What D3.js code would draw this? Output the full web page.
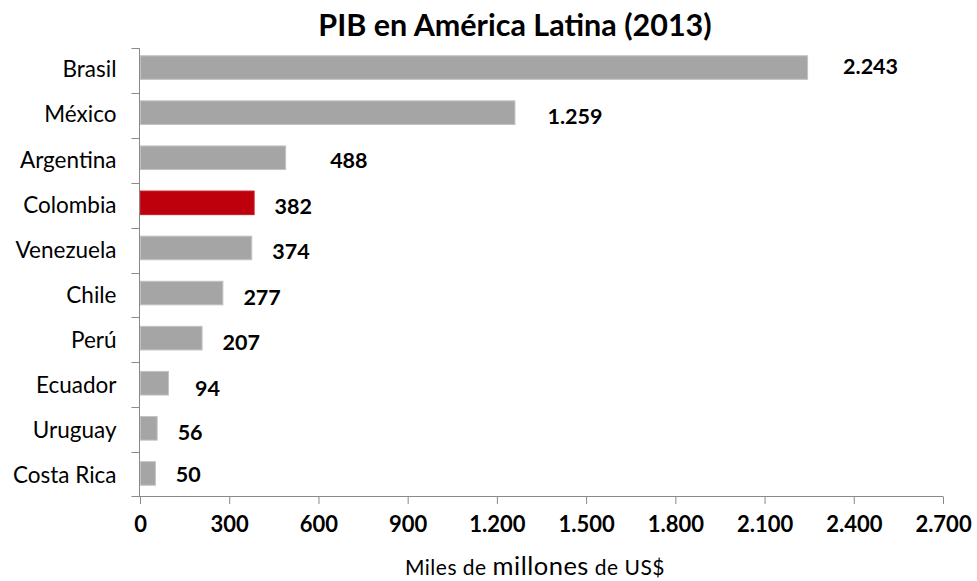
<!DOCTYPE html>
<html>
<head>
<meta charset="utf-8">
<style>
  body { margin: 0; background: #fff; }
  svg { display: block; font-family: Lato, "Open Sans", sans-serif; }
</style>
</head>
<body>
<svg id="chart"></svg>
<script src="https://d3js.org/d3.v7.min.js"></script>
<script>

  var countries = ["Brasil", "México", "Argentina", "Colombia", "Venezuela",
                   "Chile", "Perú", "Ecuador", "Uruguay", "Costa Rica"];
  var gdp = [2243, 1259, 488, 382, 374, 277, 207, 94, 56, 50];
  var highlight = "Colombia";
  var xTicks = [0, 300, 600, 900, 1200, 1500, 1800, 2100, 2400, 2700];

  // the source's data labels were dragged by hand a little; layout only
  var labelNudge = {
    "Brasil":     {dx: 15, dy: -5},
    "México":     {dx: 12, dy: 0},
    "Argentina":  {dx: 24, dy: -1},
    "Ecuador":    {dx: 6,  dy: 1},
    "Costa Rica": {dx: 0,  dy: -2.5}
  };

  var width = 977, height = 581;

  var svg = d3.select("#chart")
    .attr("width", width)
    .attr("height", height);

  var rows = countries.map(function(c, i) {
    return {country: c, value: gdp[i]};
  });

  var xScale = d3.scaleLinear()
    .domain([0, 2700])
    .range([140, 943]);

  // bars
  var yScale = d3.scaleBand()
    .domain(countries)
    .range([45, 496])
    .paddingInner(0.477)
    .paddingOuter(0.2385);

  // category tick marks (between categories)
  var yTickScale = d3.scaleBand()
    .domain(countries)
    .range([48.3, 496.7]);

  var fmt = function(v) {
    return d3.format(",")(v).replace(/,/g, ".");
  };

  var axisColor = "#898989";

  // title
  svg.append("text")
    .attr("x", 515)
    .attr("y", 36)
    .attr("text-anchor", "middle")
    .attr("font-size", 30.5)
    .attr("font-weight", "bold")
    .attr("fill", "#000")
    .text("PIB en América Latina (2013)");

  // bars
  svg.selectAll("rect.bar")
    .data(rows)
    .enter().append("rect")
    .attr("class", "bar")
    .attr("x", xScale(0) + 0.5)
    .attr("y", function(d) { return yScale(d.country); })
    .attr("width", function(d) { return xScale(d.value) - xScale(0); })
    .attr("height", yScale.bandwidth())
    .attr("fill", function(d) { return d.country === highlight ? "#be000c" : "#a5a5a5"; })
    .attr("stroke", function(d) { return d.country === highlight ? "#c41a24" : "#c2c2c2"; })
    .attr("stroke-width", 1);

  // value labels
  svg.selectAll("text.val")
    .data(rows)
    .enter().append("text")
    .attr("class", "val")
    .attr("x", function(d) {
      var n = labelNudge[d.country];
      return xScale(d.value) + 21 + (n ? n.dx : 0);
    })
    .attr("y", function(d) {
      var n = labelNudge[d.country];
      return yScale(d.country) + yScale.bandwidth() / 2 + 11.5 + (n ? n.dy : 0);
    })
    .attr("font-size", 21.5)
    .attr("font-weight", "bold")
    .attr("fill", "#000")
    .text(function(d) { return fmt(d.value); });

  // x axis
  var xAxis = d3.axisBottom(xScale)
    .tickValues(xTicks)
    .tickSize(7.5)
    .tickPadding(12)
    .tickFormat(fmt);

  var gx = svg.append("g")
    .attr("transform", "translate(0,496.5)")
    .call(xAxis);
  gx.select(".domain").remove();
  gx.append("line")
    .attr("x1", 131.5).attr("x2", xScale(2700))
    .attr("stroke", axisColor);
  gx.selectAll(".tick line").attr("stroke", axisColor);
  gx.selectAll(".tick text")
    .attr("font-family", "Lato, sans-serif")
    .attr("font-size", 22)
    .attr("font-weight", "bold")
    .attr("fill", "#000");

  // y axis
  var gy = svg.append("g");
  gy.append("line")
    .attr("x1", 139.5).attr("x2", 139.5)
    .attr("y1", 48.3).attr("y2", 496.7)
    .attr("stroke", axisColor);
  gy.selectAll("line.ytick")
    .data(countries)
    .enter().append("line")
    .attr("class", "ytick")
    .attr("x1", 131.5).attr("x2", 139.5)
    .attr("y1", function(d) { return Math.round(yTickScale(d)) + 0.5; })
    .attr("y2", function(d) { return Math.round(yTickScale(d)) + 0.5; })
    .attr("stroke", axisColor);
  gy.selectAll("text.cat")
    .data(countries)
    .enter().append("text")
    .attr("class", "cat")
    .attr("x", 116.5)
    .attr("y", function(d) { return yScale(d) + yScale.bandwidth() / 2 + 9.8; })
    .attr("text-anchor", "end")
    .attr("font-size", 22.5)
    .attr("fill", "#000")
    .text(function(d) { return d; });

  // axis title, mixed sizes like the original
  var t = svg.append("text")
    .attr("x", 535)
    .attr("y", 575)
    .attr("text-anchor", "middle")
    .attr("font-size", 21)
    .attr("letter-spacing", 0.5)
    .attr("fill", "#000");
  t.append("tspan").text("Miles de ");
  t.append("tspan").attr("font-size", 25.5).text("millones");
  t.append("tspan").text(" de US$");

</script>
</body>
</html>
